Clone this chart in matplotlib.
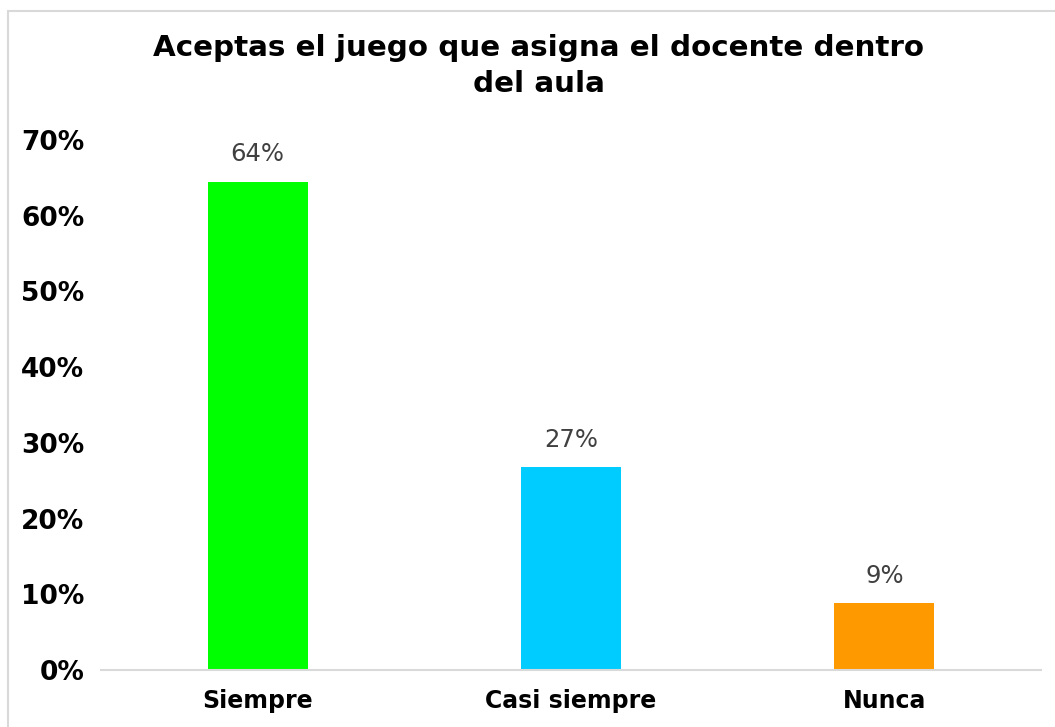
import matplotlib
matplotlib.use("Agg")
import matplotlib.pyplot as plt
from matplotlib.patches import Rectangle

categories = ["Siempre", "Casi siempre", "Nunca"]
values = [0.645, 0.268, 0.088]
labels = ["64%", "27%", "9%"]
colors = ["#00FF00", "#00CCFF", "#FF9900"]
yticks = [0, 0.1, 0.2, 0.3, 0.4, 0.5, 0.6, 0.7]
ytick_labels = ["0%", "10%", "20%", "30%", "40%", "50%", "60%", "70%"]
title = "Aceptas el juego que asigna el docente dentro\ndel aula"

plt.rcParams['font.family'] = ['DejaVu Sans']
fig = plt.figure(figsize=(10.55, 7.27), dpi=100)
fig.patches.append(Rectangle((8/1055, -0.05), 1.2, 1 - 11/727 + 0.05, transform=fig.transFigure,
                             fill=False, edgecolor="#D9D9D9", linewidth=1.5))
ax = fig.add_axes([101/1055, 1 - 670/727, (1041 - 101)/1055, (670 - 140)/727])
x = range(len(categories))
bars = ax.bar(x, values, width=0.32, color=colors)
for b, lab in zip(bars, labels):
    ax.annotate(lab, (b.get_x() + b.get_width()/2, b.get_height()), xytext=(0, 11),
                textcoords="offset points", ha="center", va="bottom", fontsize=17.5, color="#404040")
ax.set_xlim(-0.5, len(categories) - 0.5)
ax.set_ylim(0, 0.7)
ax.set_yticks(yticks)
ax.set_yticklabels(ytick_labels, fontsize=19, fontweight="bold")
ax.set_xticks(list(x))
ax.set_xticklabels(categories, fontsize=17, fontweight="bold")
ax.tick_params(axis="both", length=0)
ax.tick_params(axis="y", pad=12)
ax.tick_params(axis="x", pad=14)
for s in ["top", "right", "left"]:
    ax.spines[s].set_visible(False)
ax.spines["bottom"].set_color("#D9D9D9")
ax.spines["bottom"].set_linewidth(1.5)
fig.text(539/1055, 1 - 66/727, title, ha="center", va="center", fontsize=21.2, fontweight="bold",
         linespacing=1.35)
fig.savefig("out.png", dpi=100, facecolor="white")
